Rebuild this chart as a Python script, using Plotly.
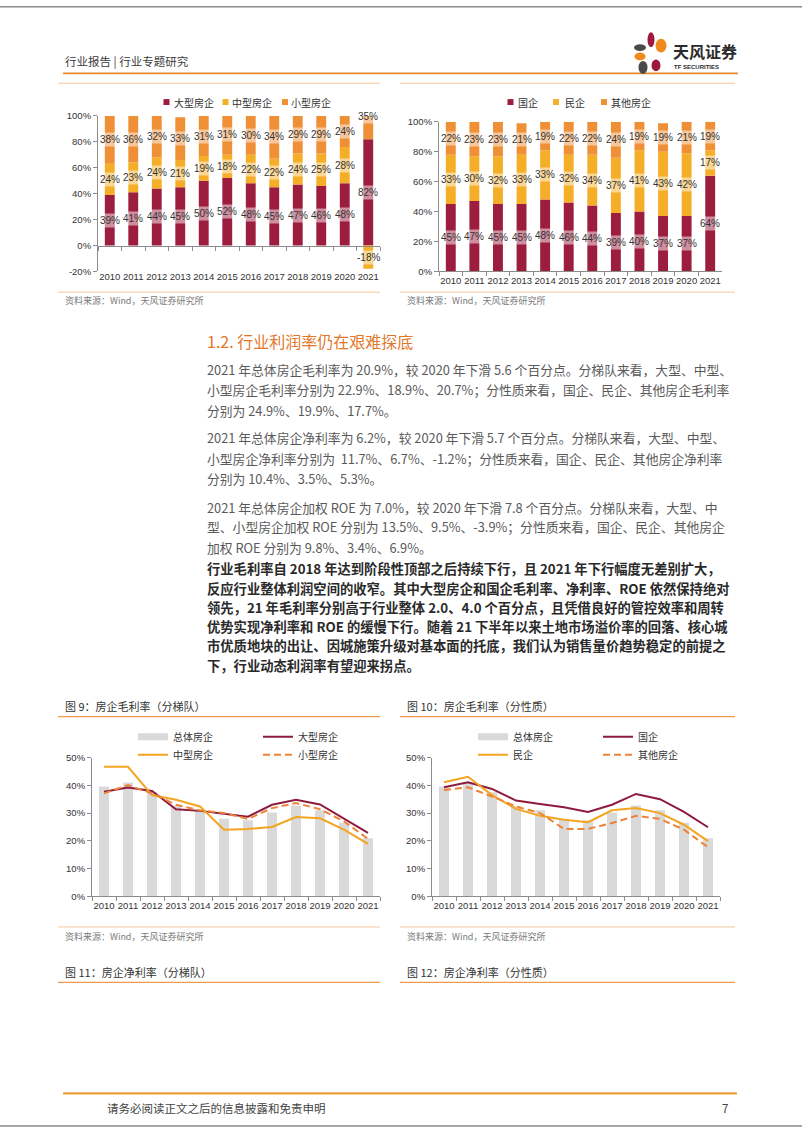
import plotly.graph_objects as go

W, H = 802, 1133
def X(p): return p / W
def Y(p): return 1 - p / H

years = [str(y) for y in range(2010, 2022)]

# Fig top-left: composition by tier (%)
tier_names = ["大型房企", "中型房企", "小型房企"]
tier_large = [39, 41, 44, 45, 50, 52, 48, 45, 47, 46, 48, 82]
tier_mid = [24, 23, 24, 21, 19, 18, 22, 22, 24, 25, 28, -18]
tier_small = [38, 36, 32, 33, 31, 31, 30, 34, 29, 29, 24, 35]

# Fig top-right: composition by ownership (%)
own_names = ["国企", "民企", "其他房企"]
own_soe = [45, 47, 45, 45, 48, 46, 44, 39, 40, 37, 37, 64]
own_private = [33, 30, 32, 33, 33, 32, 34, 37, 41, 43, 42, 17]
own_other = [22, 23, 23, 21, 19, 22, 22, 24, 19, 19, 21, 19]

# Gross margin (%)
gm_total = [39.6, 41.0, 37.5, 32.5, 31.0, 28.0, 27.4, 30.2, 32.7, 31.0, 26.5, 20.9]
gm_large = [37.7, 39.2, 38.0, 31.4, 30.8, 29.8, 28.7, 33.0, 34.8, 33.1, 27.9, 22.9]
gm_mid = [46.7, 46.7, 36.5, 34.8, 32.4, 24.0, 24.3, 25.0, 28.6, 28.1, 24.0, 18.9]
gm_small = [37.1, 40.1, 37.1, 33.0, 31.0, 30.0, 27.9, 31.8, 33.6, 31.4, 27.0, 20.7]
gm_soe = [39.3, 41.1, 38.7, 34.5, 33.3, 32.1, 30.4, 33.0, 36.9, 35.0, 30.4, 24.9]
gm_private = [41.1, 43.1, 36.5, 31.5, 29.0, 27.6, 26.7, 31.0, 31.8, 30.0, 25.8, 19.9]
gm_other = [38.3, 39.3, 36.0, 32.4, 30.0, 24.3, 24.3, 26.4, 29.0, 27.9, 24.0, 17.7]

top_ticks = [-20, 0, 20, 40, 60, 80, 100]
top_ticks2 = [0, 20, 40, 60, 80, 100]
bot_ticks = [0, 10, 20, 30, 40, 50]

RED = "#9C1D3E"
AMBER = "#F5AE27"
ORANGE = "#EF8F36"
LRED = "#8E1B3D"
LAMBER = "#F3A521"
LORANGE = "#EE8236"
GRAY = "#D9D9D9"
AX = "#8C8C8C"
CJK = "Noto Sans CJK SC"
NUM = "Liberation Sans, Arial"

fig = go.Figure()

# ---- top-left stacked bars
for name, vals, col in zip(tier_names, [tier_large, tier_mid, tier_small], [RED, AMBER, ORANGE]):
    fig.add_trace(go.Bar(x=years, y=vals, name=name, marker=dict(color=col, line=dict(width=0)),
                         xaxis="x", yaxis="y", showlegend=False, hoverinfo="skip"))
# ---- top-right stacked bars
for name, vals, col in zip(own_names, [own_soe, own_private, own_other], [RED, AMBER, ORANGE]):
    fig.add_trace(go.Bar(x=years, y=vals, name=name, marker=dict(color=col, line=dict(width=0)),
                         xaxis="x2", yaxis="y2", showlegend=False, hoverinfo="skip"))

# ---- bottom-left
fig.add_trace(go.Bar(x=years, y=gm_total, name="总体房企", marker=dict(color=GRAY, line=dict(width=0)),
                     xaxis="x3", yaxis="y3", showlegend=False, hoverinfo="skip"))
fig.add_trace(go.Scatter(x=[None], y=[None], mode="lines", name="总体房企", line=dict(color=GRAY, width=7),
                         xaxis="x3", yaxis="y3", legend="legend", hoverinfo="skip"))
fig.add_trace(go.Scatter(x=years, y=gm_large, mode="lines", name="大型房企", line=dict(color=LRED, width=2),
                         xaxis="x3", yaxis="y3", legend="legend", hoverinfo="skip"))
fig.add_trace(go.Scatter(x=years, y=gm_mid, mode="lines", name="中型房企", line=dict(color=LAMBER, width=2),
                         xaxis="x3", yaxis="y3", legend="legend2", hoverinfo="skip"))
fig.add_trace(go.Scatter(x=years, y=gm_small, mode="lines", name="小型房企",
                         line=dict(color=LORANGE, width=2, dash="7px,4px"),
                         xaxis="x3", yaxis="y3", legend="legend2", hoverinfo="skip"))

# ---- bottom-right
fig.add_trace(go.Bar(x=years, y=gm_total, name="总体房企", marker=dict(color=GRAY, line=dict(width=0)),
                     xaxis="x4", yaxis="y4", showlegend=False, hoverinfo="skip"))
fig.add_trace(go.Scatter(x=[None], y=[None], mode="lines", name="总体房企", line=dict(color=GRAY, width=7),
                         xaxis="x4", yaxis="y4", legend="legend3", hoverinfo="skip"))
fig.add_trace(go.Scatter(x=years, y=gm_soe, mode="lines", name="国企", line=dict(color=LRED, width=2),
                         xaxis="x4", yaxis="y4", legend="legend3", hoverinfo="skip"))
fig.add_trace(go.Scatter(x=years, y=gm_private, mode="lines", name="民企", line=dict(color=LAMBER, width=2),
                         xaxis="x4", yaxis="y4", legend="legend4", hoverinfo="skip"))
fig.add_trace(go.Scatter(x=years, y=gm_other, mode="lines", name="其他房企",
                         line=dict(color=LORANGE, width=2, dash="7px,4px"),
                         xaxis="x4", yaxis="y4", legend="legend4", hoverinfo="skip"))

ann = []
shapes = []

# stacked segment labels (x given as category index)
def seg_labels(series_list, xref, yref):
    pos = [0.0] * len(years)
    neg = [0.0] * len(years)
    for vals in series_list:
        for i, v in enumerate(vals):
            if v >= 0:
                c = pos[i] + v / 2
                pos[i] += v
            else:
                c = neg[i] + v / 2
                neg[i] += v
            ann.append(dict(x=i, y=c, xref=xref, yref=yref, text=f"{v}%", showarrow=False,
                            font=dict(family=NUM, size=10, color="#333333"),
                            bgcolor="rgba(255,255,255,0.5)", borderpad=1))

seg_labels([tier_large, tier_mid, tier_small], "x", "y")
seg_labels([own_soe, own_private, own_other], "x2", "y2")

def txt(x, y, s, size=12, color="#333333", family=CJK, anchor="left"):
    ann.append(dict(x=X(x), y=Y(y), xref="paper", yref="paper", text=s, showarrow=False,
                    xanchor=anchor, yanchor="middle", font=dict(family=family, size=size, color=color)))

def hline(x0, x1, y, color, width):
    shapes.append(dict(type="line", xref="paper", yref="paper", x0=X(x0), x1=X(x1), y0=Y(y), y1=Y(y),
                       line=dict(color=color, width=width)))

def sq(cx, cy, s, color):
    shapes.append(dict(type="rect", xref="paper", yref="paper", x0=X(cx - s / 2), x1=X(cx + s / 2),
                       y0=Y(cy + s / 2), y1=Y(cy - s / 2), fillcolor=color, line=dict(width=0)))

def ell(cx, cy, w, h, color):
    shapes.append(dict(type="circle", xref="paper", yref="paper", x0=X(cx - w / 2), x1=X(cx + w / 2),
                       y0=Y(cy + h / 2), y1=Y(cy - h / 2), fillcolor=color, line=dict(width=0)))

# page border
shapes.append(dict(type="line", xref="paper", yref="paper", x0=0, x1=1, y0=Y(0.8), y1=Y(0.8),
                   line=dict(color="#8a8a8a", width=1.5)))
shapes.append(dict(type="line", xref="paper", yref="paper", x0=0, x1=1, y0=Y(1131), y1=Y(1131),
                   line=dict(color="#8a8a8a", width=1.5)))

# header
txt(63, 56, "行业报告 | 行业专题研究", 11.5, "#3a3a3a")
hline(63, 738, 68, "#E8892F", 1.6)
# logo
ell(651, 34, 7, 15, "#A0193C")
ell(661, 40, 11, 14, "#F08A1C")
ell(640, 42, 12, 7, "#4A4A4A")
ell(640, 51, 11, 8, "#F08A1C")
ell(643, 62, 9, 13, "#4A4A4A")
ell(656, 60, 9, 12, "#A0193C")
txt(671, 45, "<b>天风证券</b>", 16, "#2b2b2b")
txt(672, 62, "<b>TF SECURITIES</b>", 6, "#2b2b2b", NUM)

# top chart frames
hline(58, 380, 78, "#F4C79E", 1)
hline(400, 735, 78, "#F4C79E", 1)
hline(58, 380, 289, "#F4C79E", 1)
hline(400, 735, 289, "#F4C79E", 1)
txt(63, 297, "资料来源：Wind，天风证券研究所", 9, "#7a7a7a")
txt(405, 297, "资料来源：Wind，天风证券研究所", 9, "#7a7a7a")

# top legends
for cx, tx, name, col in zip([166.5, 225.5, 285], [172, 230, 289], tier_names, [RED, AMBER, ORANGE]):
    sq(cx, 97, 6, col)
    txt(tx, 97, name, 10, "#333333")
for cx, tx, name, col in zip([510.5, 556, 604], [516, 563, 609], own_names, [RED, AMBER, ORANGE]):
    sq(cx, 97, 6, col)
    txt(tx, 97, name, 10, "#333333")

# section heading & text
txt(205, 338, "1.2. 行业利润率仍在艰难探底", 16, "#E3772A")
GREY_TXT = "#5a5a5a"
paras = [
    ([367, 387, 408], [
        "2021 年总体房企毛利率为 20.9%，较 2020 年下滑 5.6 个百分点。分梯队来看，大型、中型、",
        "小型房企毛利率分别为 22.9%、18.9%、20.7%；分性质来看，国企、民企、其他房企毛利率",
        "分别为 24.9%、19.9%、17.7%。"]),
    ([436, 457, 477], [
        "2021 年总体房企净利率为 6.2%，较 2020 年下滑 5.7 个百分点。分梯队来看，大型、中型、",
        "小型房企净利率分别为  11.7%、6.7%、-1.2%；分性质来看，国企、民企、其他房企净利率",
        "分别为 10.4%、3.5%、5.3%。"]),
    ([506, 526, 547], [
        "2021 年总体房企加权 ROE 为 7.0%，较 2020 年下滑 7.8 个百分点。分梯队来看，大型、中",
        "型、小型房企加权 ROE 分别为 13.5%、9.5%、-3.9%；分性质来看，国企、民企、其他房企",
        "加权 ROE 分别为 9.8%、3.4%、6.9%。"]),
]
for ys, lines in paras:
    for yy, s in zip(ys, lines):
        txt(205, yy, s, 12.8, GREY_TXT)
bold_lines = [
    "行业毛利率自 2018 年达到阶段性顶部之后持续下行，且 2021 年下行幅度无差别扩大，",
    "反应行业整体利润空间的收窄。其中大型房企和国企毛利率、净利率、ROE 依然保持绝对",
    "领先，21 年毛利率分别高于行业整体 2.0、4.0 个百分点，且凭借良好的管控效率和周转",
    "优势实现净利率和 ROE 的缓慢下行。随着 21 下半年以来土地市场溢价率的回落、核心城",
    "市优质地块的出让、因城施策升级对基本面的托底，我们认为销售量价趋势稳定的前提之",
    "下，行业动态利润率有望迎来拐点。",
]
for yy, s in zip([568, 588, 607, 627, 646, 666], bold_lines):
    txt(205, yy, "<b>" + s + "</b>", 13.3, "#2a2a2a")

# bottom captions
txt(63, 707, "图 9：房企毛利率（分梯队）", 11, "#333333")
txt(405, 707, "图 10：房企毛利率（分性质）", 11, "#333333")
hline(58, 380, 717.5, "#ED9B4F", 1.2)
hline(400, 735, 717.5, "#ED9B4F", 1.2)
hline(58, 380, 930, "#F4C79E", 1)
hline(400, 735, 930, "#F4C79E", 1)
txt(63, 940, "资料来源：Wind，天风证券研究所", 9, "#7a7a7a")
txt(405, 940, "资料来源：Wind，天风证券研究所", 9, "#7a7a7a")
txt(63, 975, "图 11：房企净利率（分梯队）", 11, "#333333")
txt(405, 975, "图 12：房企净利率（分性质）", 11, "#333333")
hline(58, 380, 986, "#ED9B4F", 1.2)
hline(400, 735, 986, "#ED9B4F", 1.2)

# footer
hline(63, 737, 1098, "#E9A03A", 2.2)
txt(105, 1113, "请务必阅读正文之后的信息披露和免责申明", 11.5, "#444444")
txt(730, 1113, "7", 11.5, "#444444", anchor="right")

tickf = dict(family=NUM, size=9.5, color="#333333")
common_x = dict(type="category", range=[-0.5, 11.5], showline=True, linecolor=AX, linewidth=1,
                ticks="outside", tickson="boundaries", ticklen=4, tickcolor=AX, tickfont=tickf,
                tickangle=0, showgrid=False, zeroline=False, fixedrange=True)
common_y = dict(showline=True, linecolor=AX, linewidth=1, ticks="outside", ticklen=4, tickcolor=AX,
                tickfont=tickf, showgrid=False, zeroline=False, fixedrange=True)

def yt(vals):
    return dict(tickmode="array", tickvals=vals, ticktext=[f"{v}%" for v in vals])

leg = dict(orientation="h", xanchor="left", yanchor="middle", entrywidth=80, entrywidthmode="pixels",
           font=dict(family=CJK, size=10, color="#333333"), bgcolor="rgba(0,0,0,0)", itemclick=False)

fig.update_layout(
    width=W, height=H, margin=dict(l=0, r=0, t=0, b=0),
    paper_bgcolor="white", plot_bgcolor="rgba(0,0,0,0)",
    barmode="relative", bargap=0.58,
    xaxis=dict(common_x, domain=[X(98), X(380)], anchor="free", position=Y(242), ticklabelstandoff=22),
    yaxis=dict(common_y, **yt(top_ticks), domain=[Y(268), Y(111)], range=[-20, 100], anchor="x"),
    xaxis2=dict(common_x, domain=[X(439), X(722)], anchor="y2"),
    yaxis2=dict(common_y, **yt(top_ticks2), domain=[Y(268), Y(117)], range=[0, 100], anchor="x2"),
    xaxis3=dict(common_x, domain=[X(92), X(380)], anchor="y3"),
    yaxis3=dict(common_y, **yt(bot_ticks), domain=[Y(899), Y(759)], range=[0, 50], anchor="x3"),
    xaxis4=dict(common_x, domain=[X(432), X(720)], anchor="y4"),
    yaxis4=dict(common_y, **yt(bot_ticks), domain=[Y(899), Y(759)], range=[0, 50], anchor="x4"),
    legend=dict(leg, x=X(133), y=Y(738)),
    legend2=dict(leg, x=X(133), y=Y(756)),
    legend3=dict(leg, x=X(473), y=Y(738)),
    legend4=dict(leg, x=X(473), y=Y(756)),
    annotations=ann, shapes=shapes,
    font=dict(family=CJK),
)

fig.write_html("out.html", config={"displayModeBar": False},
               post_script="document.body.style.margin='0';document.body.style.padding='0';"
                           "document.body.style.overflow='hidden';")
